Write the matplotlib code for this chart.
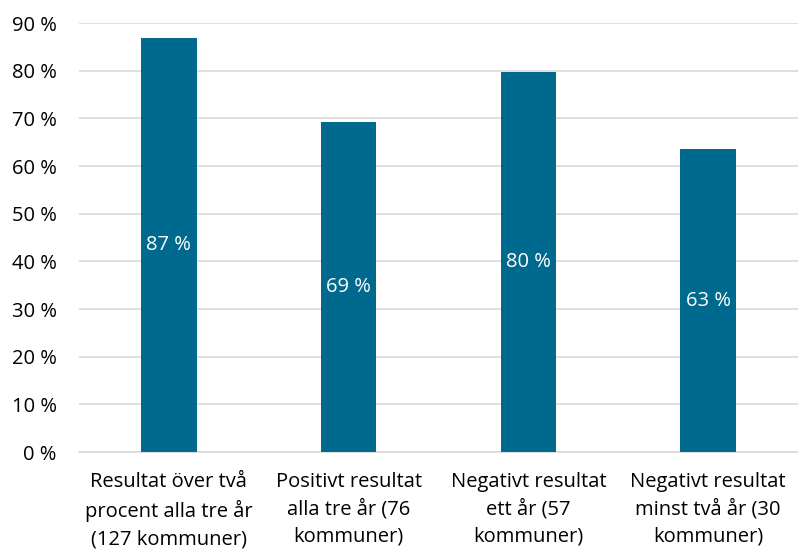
import matplotlib.pyplot as plt

categories = [
    "Resultat över två\nprocent alla tre år\n(127 kommuner)",
    "Positivt resultat\nalla tre år (76\nkommuner)",
    "Negativt resultat\nett år (57\nkommuner)",
    "Negativt resultat\nminst två år (30\nkommuner)",
]
values = [86.8, 69.2, 79.7, 63.5]
labels = ["87 %", "69 %", "80 %", "63 %"]
yticks = [0, 10, 20, 30, 40, 50, 60, 70, 80, 90]

plt.rcParams["font.family"] = ["Open Sans", "DejaVu Sans"]
FS = 14.5

fig, ax = plt.subplots(figsize=(7.98, 5.52), dpi=100)
fig.subplots_adjust(left=0.099, right=1.0, top=0.958, bottom=0.181)

x = range(len(categories))
bars = ax.bar(x, values, width=0.31, color="#006A8E", zorder=3)
for b, lab in zip(bars, labels):
    ax.text(b.get_x() + b.get_width() / 2, b.get_height() / 2, lab,
            ha="center", va="center", color="white", fontsize=FS, zorder=4)

ax.set_xlim(-0.5, len(categories) - 0.5)
ax.set_ylim(0, 90)
ax.set_yticks(yticks)
ax.set_yticklabels([f"{t} %" for t in yticks], fontsize=FS)
ax.set_xticks(list(x))
ax.set_xticklabels(categories, fontsize=FS, linespacing=1.48)
ax.tick_params(axis="both", length=0, colors="black")
ax.tick_params(axis="x", pad=14)
ax.tick_params(axis="y", pad=16)

ax.grid(axis="y", color="#D9D9D9", linewidth=1.2, zorder=0)
for s in ["top", "right", "left"]:
    ax.spines[s].set_visible(False)
ax.spines["bottom"].set_color("#D9D9D9")
ax.spines["bottom"].set_linewidth(1.2)

fig.savefig("out.png", dpi=100)
